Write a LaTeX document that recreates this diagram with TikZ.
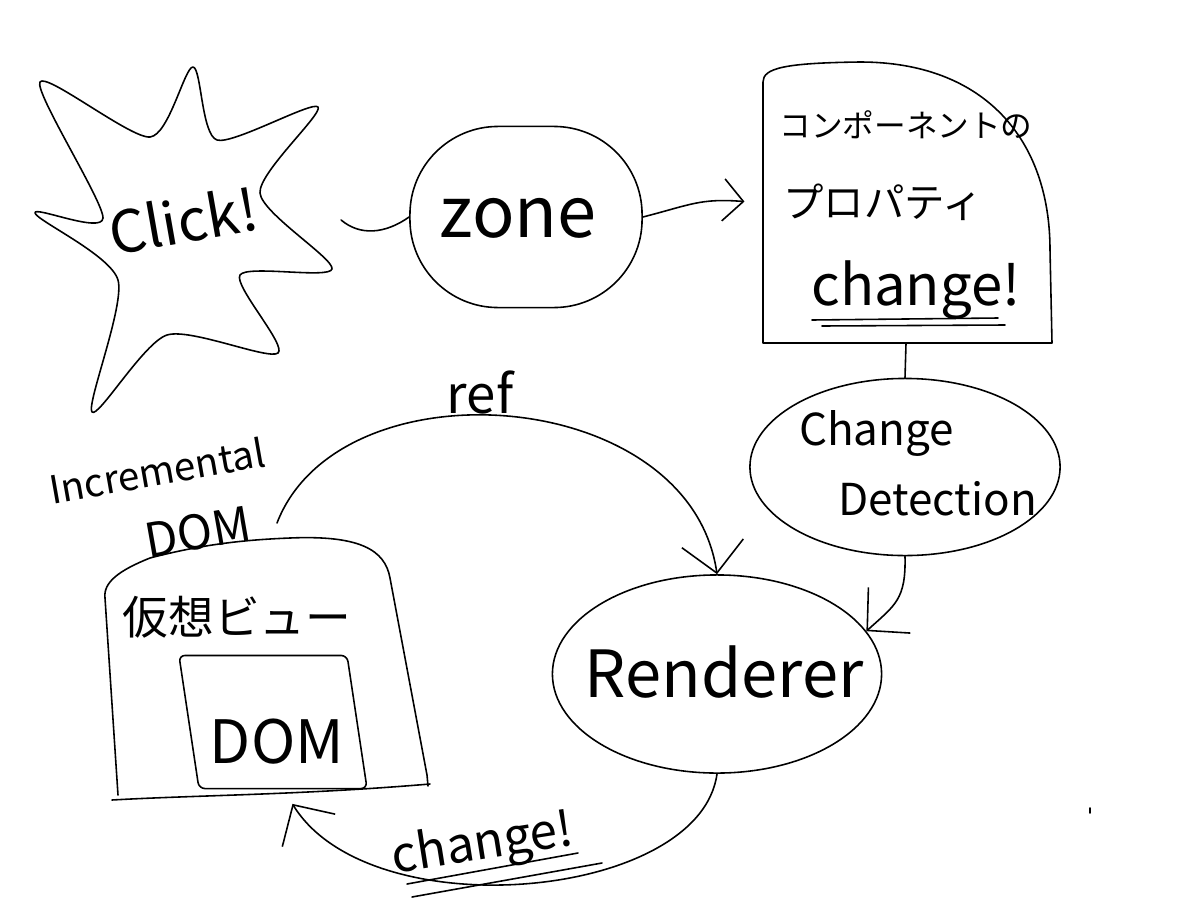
\documentclass[tikz,border=0pt]{standalone}
\usepackage{fontspec}
\setmainfont{Noto Sans CJK JP}
\usepackage{tikz}
\usetikzlibrary{calc}
\usetikzlibrary{arrows.meta}
\usetikzlibrary{positioning}
\usetikzlibrary{shapes}
\newcommand{\handFont}[2]{\fontsize{#1}{#2}\selectfont}

\begin{document}
\begin{tikzpicture}[x=0.01cm, y=-0.01cm,
		pen/.style={line width=0.45pt, line cap=round, line join=round},
		blob/.style={pen, draw, ellipse, inner sep=0pt},
		box/.style={inner sep=0pt, outer sep=0pt},
		txt/.style={inner sep=0pt},
		barb/.style={-{Straight Barb[length=0.3cm, width=0.62cm]}},
		smallbarb/.style={-{Straight Barb[length=0.2cm, width=0.42cm]}}
	]
	\useasboundingbox (0,0) rectangle (1200,900);

		% click star
		\draw [pen] plot [smooth cycle, tension=0.45] coordinates {
			(193,67) (217,140) (318,107) (260,193) (332,269) (240,275)
			(278,353) (167,335) (92,412) (118,280) (35,213) (103,218)
			(40,82) (150,137)};
		\node [box, minimum width=3.16cm, minimum height=1cm] (click) at (183,220) {\handFont{16.5}{16.5}\rotatebox{10}{Click!}};

		% zone
		\node [pen, draw, rounded corners=0.88cm, minimum width=2.32cm, minimum height=1.81cm] (zone) at (526,217) {};
		\node [txt, font=\handFont{20}{20}] at (518,218) {zone};

		% component properties
		\draw [pen] (763,343) -- (763,82) .. controls (763,68) and (785,63) .. (860,62)
			.. controls (985,62) and (1050,140) .. (1050,250) -- (1052,343) -- cycle;
		\node [box, minimum width=2.87cm, minimum height=2.81cm] (props) at (906,203) {};
		\node [txt, font=\handFont{9}{9}] (props1) at (906,125) {コンポーネントの};
		\node [txt, font=\handFont{11.5}{11.5}] (props2) at (883,202) {プロパティ};
		\node [txt, font=\handFont{16}{16}] (chg1) at (916,290) {change!};
		\draw [pen] (812,320) -- (998,318);
		\draw [pen] (822,326) -- (1005,325);

		% change detection
		\node [blob, minimum width=3.1cm, minimum height=1.77cm] (detect) at (905,467) {};
		\node [txt, align=left, font=\handFont{12.5}{20}] at (918,463) {Change\\\hspace*{0.9em}Detection};

		% renderer
		\node [blob, minimum width=3.29cm, minimum height=1.98cm] (render) at (717,674) {};
		\node [txt, font=\handFont{18.5}{18.5}] at (724,672) {Renderer};

		% virtual view with dom
		\draw [pen] (118,795) -- (105,598) .. controls (103,582) and (120,570) .. (150,558)
			.. controls (200,545) and (240,540) .. (290,538)
			.. controls (360,535) and (385,550) .. (390,578) -- (427,775) -- (428,786);
		\draw [pen] (112,800) .. controls (200,795) and (300,795) .. (430,784);
		\node [box, minimum width=3.23cm, minimum height=2.52cm] (vview) at (266,671) {};
		\node [txt, font=\handFont{13}{13}] (vviewtext) at (237,617) {仮想ビュー};
		\node [pen, draw, rounded corners=0.06cm, xslant=-0.15, minimum width=1.68cm, minimum height=1.33cm] (dom) at (273,722) {};
		\node [txt, font=\handFont{17}{17}] at (277,742) {DOM};

		\node [txt, rotate=10, align=left, font=\handFont{11}{20}] (incr) at (163,505) {Incremental\\\hspace*{2.2em}{\fontsize{13.5}{20}\selectfont DOM}};
		\coordinate (refstart) at (277,523);

		% connectors
		\draw [pen] (click.east) .. controls (360,236) and (385,234) .. (zone.west);
		\draw [pen, smallbarb, shorten >=0.18cm] (zone.east) .. controls (690,205) and (700,198) .. (props.west);
		\draw [pen] (props.south) -- (detect.north);
		\draw [pen, barb] (detect.south) .. controls (906,600) and (895,605) .. (render.16);
		\draw [pen, barb] (refstart) .. controls (340,360) and (690,385) .. (render.north);
		\draw [pen, barb, shorten >=0.08cm] (render.south) .. controls (700,900) and (370,930) .. (vview.-80);

		\node [txt, font=\handFont{15}{15}] (reflabel) at (480,393) {ref};
		\node [txt, rotate=9, font=\handFont{14}{14}] (chg2) at (483,846) {change!};
		\draw [pen] (407,884) -- (578,853);
		\draw [pen] (412,897) -- (602,863);

		\draw [pen] (1090,808) -- (1090,813); %dot
	\end{tikzpicture}
\end{document}
